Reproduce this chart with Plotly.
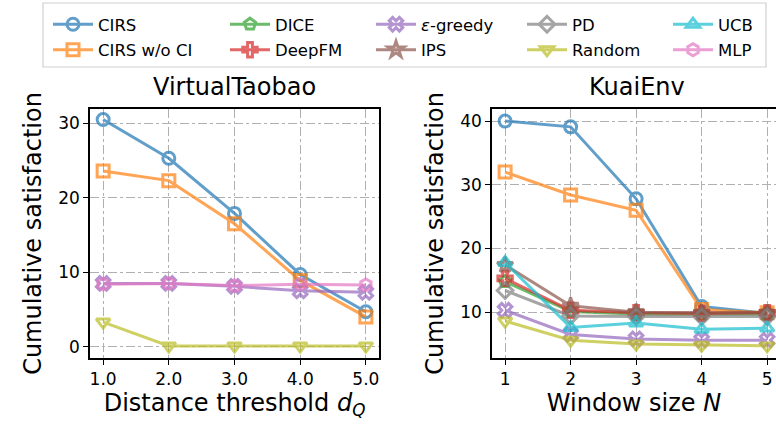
import plotly.graph_objects as go

x_vals = [1, 2, 3, 4, 5]
x_ticks_left = ["1.0", "2.0", "3.0", "4.0", "5.0"]
x_ticks_right = ["1", "2", "3", "4", "5"]

# VirtualTaobao (left)
vt = {
    "CIRS": [30.5, 25.3, 17.9, 9.7, 4.7],
    "CIRS w/o CI": [23.6, 22.3, 16.5, 8.9, 4.0],
    "ε-greedy": [8.5, 8.5, 8.1, 7.5, 7.3],
    "Random": [3.3, 0.1, 0.1, 0.1, 0.1],
    "MLP": [8.4, 8.5, 8.2, 8.4, 8.3],
}
# KuaiEnv (right)
ke = {
    "CIRS": [40.0, 39.1, 27.8, 10.9, 9.8],
    "CIRS w/o CI": [32.0, 28.4, 26.0, 10.4, 9.9],
    "DICE": [14.8, 10.1, 9.7, 9.7, 9.7],
    "DeepFM": [15.3, 10.3, 9.9, 9.8, 9.9],
    "ε-greedy": [10.3, 6.5, 5.8, 5.6, 5.6],
    "IPS": [17.4, 11.0, 10.0, 9.9, 9.9],
    "PD": [13.4, 9.4, 9.3, 9.3, 9.3],
    "Random": [8.6, 5.6, 5.0, 4.8, 4.7],
    "UCB": [17.8, 7.6, 8.3, 7.3, 7.5],
}

series = ["CIRS", "CIRS w/o CI", "DICE", "DeepFM", "ε-greedy", "IPS", "PD", "Random", "UCB", "MLP"]
colors = {
    "CIRS": "#1f77b4", "CIRS w/o CI": "#ff7f0e", "DICE": "#2ca02c", "DeepFM": "#d62728",
    "ε-greedy": "#9467bd", "IPS": "#8c564b", "PD": "#7f7f7f", "Random": "#bcbd22",
    "UCB": "#17becf", "MLP": "#e377c2",
}
symbols = {
    "CIRS": "circle-open", "CIRS w/o CI": "square-open", "DICE": "pentagon-open",
    "DeepFM": "cross-open", "ε-greedy": "x-open", "IPS": "star-open", "PD": "diamond-open",
    "Random": "triangle-down-open", "UCB": "triangle-up-open", "MLP": "hexagon-open",
}
legend_names = {"ε-greedy": "<i>ε</i>-greedy"}
legend_col = {s: ["legend", "legend2", "legend3", "legend4", "legend5"][i // 2] for i, s in enumerate(series)}

fig = go.Figure()
for s in series:
    for data, xa, ya in [(vt, "x", "y"), (ke, "x2", "y2")]:
        if s not in data:
            continue
        first = (xa == "x" and s in vt) or (xa == "x2" and s not in vt)
        fig.add_trace(go.Scatter(
            x=x_vals, y=data[s], xaxis=xa, yaxis=ya, mode="lines+markers",
            name=legend_names.get(s, s), legendgroup=s, legend=legend_col[s],
            showlegend=first, opacity=0.7,
            line=dict(color=colors[s], width=3),
            marker=dict(symbol=symbols[s], size=12, color=colors[s], line=dict(width=3, color=colors[s])),
        ))

H = 434.0
W = 776.0
ytop = 1 - 109 / H
ybot = 1 - 358 / H
font = "DejaVu Sans"
axis_common = dict(showline=True, linecolor="black", linewidth=1.5, ticks="outside", ticklen=5,
                   tickwidth=1.2, tickcolor="black", showgrid=True, gridcolor="#b0b0b0",
                   griddash="dashdot", gridwidth=1.2, zeroline=False, automargin=False,
                   tickfont=dict(family=font, size=17, color="black"))
title_font = dict(size=24, family=font, color="black")

fig.update_layout(
    width=776, height=434, margin=dict(l=0, r=0, t=0, b=0),
    paper_bgcolor="white", plot_bgcolor="white",
    font=dict(family=font, color="black"),
    xaxis=dict(domain=[90 / W, 379 / W], range=[0.8, 5.2], tickvals=x_vals, ticktext=x_ticks_left,
               mirror=True, anchor="y",
               title=dict(text="Distance threshold <i>d</i><sub><i>Q</i></sub>", font=title_font, standoff=4),
               **axis_common),
    yaxis=dict(domain=[ybot, ytop], range=[-1.52, 31.92], tickvals=[0, 10, 20, 30], mirror=True, anchor="x",
               title=dict(text="Cumulative satisfaction", font=title_font, standoff=10),
               **axis_common),
    xaxis2=dict(domain=[492 / W, 1.0], range=[0.8, 5.135], tickvals=x_vals, ticktext=x_ticks_right,
                mirror=True, anchor="y2",
                title=dict(text="Window size <i>N</i>", font=title_font, standoff=4),
                **axis_common),
    yaxis2=dict(domain=[ybot, ytop], range=[2.8, 41.9], tickvals=[10, 20, 30, 40], mirror=False, anchor="x2",
                title=dict(text="Cumulative satisfaction", font=title_font, standoff=10),
                **axis_common),
    annotations=[
        dict(text="VirtualTaobao", x=(90 + 379) / 2 / W, y=1 - 87 / H, xref="paper", yref="paper",
             showarrow=False, font=title_font, xanchor="center", yanchor="middle"),
        dict(text="KuaiEnv", x=(492 + 781) / 2 / W, y=1 - 87 / H, xref="paper", yref="paper",
             showarrow=False, font=title_font, xanchor="center", yanchor="middle"),
    ],
    shapes=[dict(type="rect", xref="paper", yref="paper", x0=43 / W, x1=766 / W, y0=1 - 67 / H, y1=1 - 3 / H,
                 line=dict(color="#d0d0d0", width=1.2), fillcolor="rgba(255,255,255,0.8)", layer="below")],
)
text_x = [104, 281, 427, 578, 724]
for i, tx in enumerate(text_x):
    key = "legend" if i == 0 else f"legend{i+1}"
    fig.update_layout({key: dict(x=(tx - 56) / W, y=1 - 7 / H, xanchor="left", yanchor="top", orientation="v",
                                 bgcolor="rgba(0,0,0,0)", borderwidth=0, tracegroupgap=1, itemwidth=40,
                                 font=dict(size=16.5, family=font, color="black"), itemsizing="trace")})

fig.write_html("out.html", config={"displayModeBar": False},
               post_script="document.body.style.margin='0';document.body.style.overflow='hidden';")
